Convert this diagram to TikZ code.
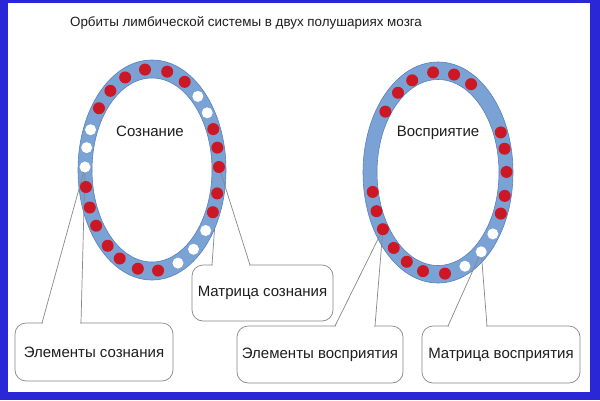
\documentclass[tikz,border=0pt]{standalone}
\usepackage{fontspec}
\setmainfont{Liberation Sans}
\usetikzlibrary{calc}
\definecolor{frameblue}{RGB}{42,40,214}
\definecolor{ringblue}{RGB}{122,162,212}
\definecolor{ringedge}{RGB}{88,128,188}
\definecolor{dotred}{RGB}{204,24,36}
\definecolor{calloutgray}{RGB}{135,135,135}
\definecolor{txt}{RGB}{30,30,30}
\begin{document}
\begin{tikzpicture}[x=1pt,y=-1pt,
  rdot/.style={circle,fill=dotred,minimum size=12pt,inner sep=0pt},
  wdot/.style={circle,fill=white,minimum size=11pt,inner sep=0pt},
  ring/.style={fill=ringblue,even odd rule},
  ringline/.style={draw=ringedge,line width=0.6pt},
  callout/.style={draw=calloutgray,fill=white,rounded corners=11pt,line width=0.7pt,inner sep=0pt,text=txt,font=\fontsize{15}{18}\selectfont},
  wedge/.style={draw=calloutgray,line width=0.7pt},
  lbl/.style={text=txt,font=\fontsize{15}{18}\selectfont}]
\useasboundingbox (0,0) rectangle (600,400);
\fill[frameblue] (0,0) rectangle (600,400);
\fill[white] (8,3) rectangle (590,392);

\node[lbl,font=\fontsize{13.4}{16}\selectfont] (title) at (246,23) {Орбиты лимбической системы в двух полушариях мозга};

% callouts (behind the rings where the pointers cross them)
\node[callout,minimum width=158pt,minimum height=58pt] (c1) at (94,352) {Элементы сознания};
\node[callout,minimum width=141pt,minimum height=56pt] (c2) at (262.5,293) {Матрица сознания};
\node[callout,minimum width=166pt,minimum height=57pt] (c3) at (320,354.5) {Элементы восприятия};
\node[callout,minimum width=158pt,minimum height=57pt] (c4) at (501,354.5) {Матрица восприятия};

\coordinate (w1a) at (42,323);   \coordinate (w1b) at (81,323);
\coordinate (w2a) at (212,265);  \coordinate (w2b) at (250,265);
\coordinate (w3a) at (335,326);  \coordinate (w3b) at (375,326);
\coordinate (w4a) at (448,326);  \coordinate (w4b) at (487,326);
\foreach \w in {1,2,3,4}{
  \fill[white] ($(w\w a)+(0.6,-1.6)$) rectangle ($(w\w b)+(-0.6,1.6)$);
}

% dot positions
\foreach \a/\n in {358.3/1,13.4/2,24.7/3,36.8/4,51.7/5,67.2/6,84.8/7,102.2/8,118.8/9,131.4/10,146.5/11,158.2/12,170.3/13,181.7/14,192.8/15,203.5/16,217.7/17,231.6/18,246.4/19,264/20,283.1/21,299.2/22,313.2/23,325.5/24,336.1/25,347.2/26}{
  \coordinate (L\n) at ({152+67*cos(\a)},{170+101*sin(\a)});
}
\foreach \a/\n in {359.4/1,13.1/2,23.7/3,37.1/4,51.3/5,67.4/6,84.9/7,103.7/8,118.5/9,132.1/10,146.2/11,157.8/12,169.2/13,217.4/14,232.6/15,246.6/16,265/17,282.9/18,298.4/19,336.3/20,346.1/21}{
  \coordinate (R\n) at ({439+67.5*cos(\a)},{173+101*sin(\a)});
}

% the left pointer of "Матрица сознания" runs under the ring
\draw[wedge] (w2a) -- (L1);

% rings
\fill[ring] (152,170) ellipse [x radius=74pt,y radius=110pt] (152,170) ellipse [x radius=60pt,y radius=92pt];
\draw[ringline] (152,170) ellipse [x radius=74pt,y radius=110pt] (152,170) ellipse [x radius=60pt,y radius=92pt];
\fill[ring] (438,172.5) ellipse [x radius=75pt,y radius=110.5pt] (438,172.5) ellipse [x radius=61pt,y radius=93pt];
\draw[ringline] (438,172.5) ellipse [x radius=75pt,y radius=110.5pt] (438,172.5) ellipse [x radius=61pt,y radius=93pt];

% pointer lines
\draw[wedge] (w1a) -- (L14) -- (w1b);
\draw[wedge] (L1) -- (w2b);
\draw[wedge] (w3a) -- (R11) -- (w3b);
\draw[wedge] (w4a) -- (R5) -- (w4b);

% dots
\foreach \s/\n in {rdot/1,rdot/2,rdot/3,wdot/4,wdot/5,wdot/6,rdot/7,rdot/8,rdot/9,rdot/10,rdot/11,rdot/12,rdot/13,wdot/14,wdot/15,wdot/16,rdot/17,rdot/18,rdot/19,rdot/20,rdot/21,rdot/22,wdot/23,wdot/24,rdot/25,rdot/26}{
  \node[\s] (dl\n) at (L\n) {};
}
\foreach \s/\n in {rdot/1,rdot/2,rdot/3,wdot/4,wdot/5,wdot/6,rdot/7,rdot/8,rdot/9,rdot/10,rdot/11,rdot/12,rdot/13,rdot/14,rdot/15,rdot/16,rdot/17,rdot/18,rdot/19,rdot/20,rdot/21}{
  \node[\s] (dr\n) at (R\n) {};
}

\node[lbl] (soz) at (150,131) {Сознание};
\node[lbl] (vos) at (438,133) {Восприятие};
\end{tikzpicture}
\end{document}
